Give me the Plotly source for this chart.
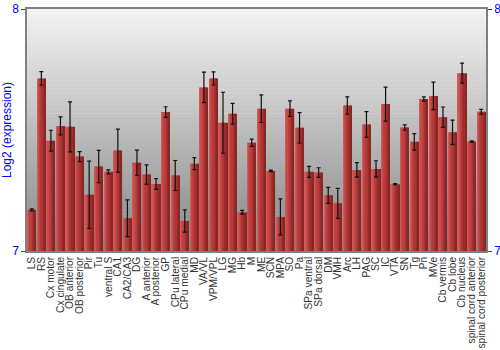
import plotly.graph_objects as go

categories = ["LS", "RS", "Cx motor", "Cx cingulate", "OB anterior", "OB posterior", "Pir", "Tu",
              "ventral S", "CA1", "CA2/CA3", "DG", "A anterior", "A posterior", "GP", "CPu lateral",
              "CPu medial", "MD", "VA/VL", "VPM/VPL", "LG", "MG", "Hb", "M", "ME", "SCN", "MPA", "SO",
              "Pa", "SPa ventral", "SPa dorsal", "DM", "VMH", "Arc", "LH", "PAG", "SC", "IC", "VTA", "SN",
              "Tg", "Pn", "MVe", "Cb vermis", "Cb lobe", "Cb nucleus", "spinal cord anterior",
              "spinal cord posterior"]

values = [7.170, 7.713, 7.456, 7.517, 7.513, 7.390, 7.232, 7.349,
          7.327, 7.415, 7.135, 7.365, 7.316, 7.277, 7.574, 7.312,
          7.124, 7.361, 7.676, 7.713, 7.530, 7.567, 7.160, 7.447, 7.588, 7.331, 7.141, 7.588,
          7.509, 7.327, 7.324, 7.230, 7.197, 7.601, 7.335, 7.523, 7.339, 7.607, 7.276, 7.510,
          7.451, 7.628, 7.641, 7.553, 7.491, 7.735, 7.452,
          7.575]

errors = [0.004, 0.028, 0.043, 0.037, 0.103, 0.021, 0.139, 0.067,
          0.008, 0.089, 0.076, 0.052, 0.040, 0.022, 0.022, 0.062,
          0.046, 0.025, 0.063, 0.027, 0.126, 0.043, 0.008, 0.015, 0.057, 0.003, 0.074, 0.032,
          0.063, 0.023, 0.020, 0.033, 0.062, 0.036, 0.030, 0.053, 0.034, 0.070, 0.002, 0.011,
          0.034, 0.009, 0.057, 0.042, 0.050, 0.041, 0.003,
          0.010]

y_ticks = [7, 8]
y_range = [7, 8]

fig = go.Figure()

# horizontal gradient on bars via overlaid slices
bar_w = 0.88
shades = ["#cf5a58", "#c84a49", "#bf4040", "#b53a3a", "#a83333", "#9a2c2c", "#8a2626"]
n = len(shades)
sw = bar_w / n
for k, c in enumerate(shades):
    fig.add_trace(go.Bar(x=categories, y=values, base=0, width=sw * 1.02,
                         offset=-bar_w / 2 + k * sw, marker=dict(color=c, line=dict(width=0)),
                         hoverinfo="skip", showlegend=False))

# error bars
fig.add_trace(go.Bar(x=categories, y=values, width=bar_w, offset=-bar_w / 2,
                     marker=dict(color="rgba(0,0,0,0)", line=dict(width=0)),
                     error_y=dict(type="data", array=errors, color="#111111", thickness=1.2, width=2),
                     showlegend=False))

# right axis anchor trace
fig.add_trace(go.Scatter(x=categories, y=values, yaxis="y2", mode="markers",
                         marker=dict(opacity=0), hoverinfo="skip", showlegend=False))

# background gradient
steps = 60
top = (0xf3, 0xf3, 0xf3)
bot = (0x86, 0x86, 0x86)
for i in range(steps):
    t = i / (steps - 1)
    col = tuple(round(bot[j] + (top[j] - bot[j]) * t) for j in range(3))
    fig.add_shape(type="rect", xref="paper", yref="paper", x0=0, x1=1,
                  y0=i / steps, y1=(i + 1) / steps + 0.002,
                  fillcolor="rgb(%d,%d,%d)" % col, line=dict(width=0), layer="below")

axis_font = dict(family="Liberation Sans, Arial, sans-serif", size=12, color="#0000ff")
fig.update_layout(
    width=500, height=350,
    margin=dict(l=27, r=14, t=9, b=99, autoexpand=False),
    paper_bgcolor="white", plot_bgcolor="white",
    barmode="overlay", bargap=0.1,
    font=dict(family="Liberation Sans, Arial, sans-serif"),
    xaxis=dict(tickangle=-90, tickfont=dict(size=10.2, color="#333333"), showgrid=False,
               tickmode="array", tickvals=categories, ticktext=categories, automargin=False,
               showline=True, linecolor="#808080", linewidth=1.5, mirror=True,
               ticks="", ticklen=0, range=[-0.5, len(categories) - 0.5]),
    yaxis=dict(range=y_range, tickvals=y_ticks, tickfont=axis_font, showgrid=False,
               showline=True, linecolor="#808080", linewidth=1.5, ticks="outside",
               ticklen=4, tickcolor="#444444", zeroline=False, automargin=False,
               title=dict(text="Log2 (expression)", font=axis_font, standoff=2)),
    yaxis2=dict(range=y_range, tickvals=y_ticks, tickfont=axis_font, overlaying="y",
                side="right", showgrid=False, showline=True, linecolor="#808080",
                linewidth=1.5, ticks="outside", ticklen=4, tickcolor="#444444",
                zeroline=False, automargin=False),
)

fig.write_html("out.html")
